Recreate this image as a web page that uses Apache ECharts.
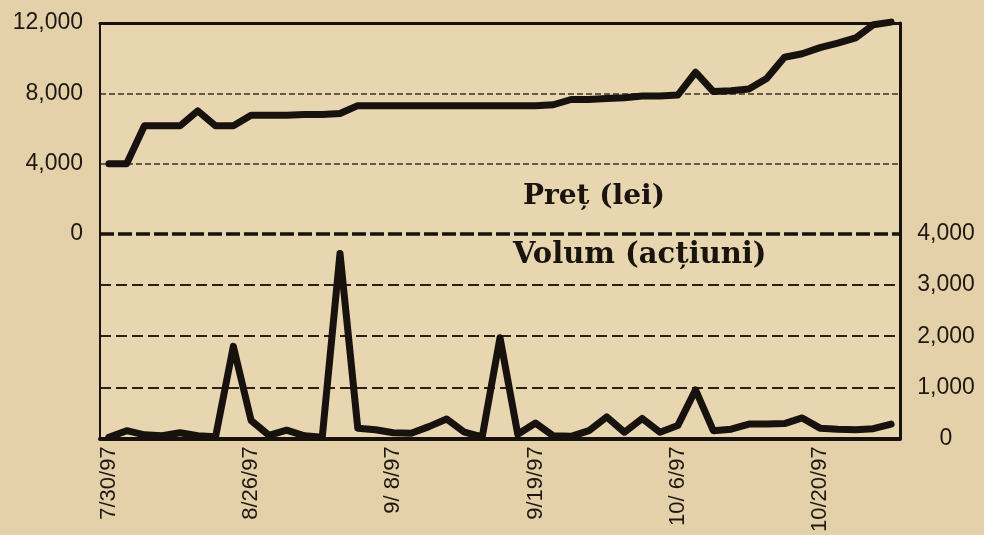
<!DOCTYPE html>
<html>
<head>
<meta charset="utf-8">
<script src="https://cdn.jsdelivr.net/npm/echarts@6/dist/echarts.min.js"></script>
<style>
  html, body { margin: 0; padding: 0; background: #e4d1a9; }
  #chart { width: 984px; height: 535px; }
</style>
</head>
<body>
<div id="chart"></div>
<script>
// ---- data ----
const categories = [
  '7/30/97', '8/ 1/97', '8/ 5/97', '8/ 7/97', '8/11/97', '8/14/97', '8/18/97', '8/21/97',
  '8/26/97', '8/27/97', '8/28/97', '8/29/97', '9/ 1/97', '9/ 2/97', '9/ 3/97', '9/ 5/97',
  '9/ 8/97', '9/ 9/97', '9/10/97', '9/11/97', '9/12/97', '9/15/97', '9/16/97', '9/18/97',
  '9/19/97', '9/22/97', '9/23/97', '9/24/97', '9/25/97', '9/29/97', '9/30/97', '10/ 2/97',
  '10/ 6/97', '10/ 7/97', '10/ 8/97', '10/ 9/97', '10/10/97', '10/13/97', '10/14/97', '10/15/97',
  '10/20/97', '10/21/97', '10/22/97', '10/23/97', '10/24/97'
];
const priceLei = [
  4000, 4000, 6150, 6150, 6150, 7000, 6150, 6150,
  6750, 6750, 6750, 6800, 6800, 6850, 7300, 7300,
  7300, 7300, 7300, 7300, 7300, 7300, 7300, 7300,
  7300, 7350, 7650, 7650, 7700, 7750, 7850, 7850,
  7900, 9200, 8100, 8150, 8250, 8850, 10050, 10250,
  10600, 10850, 11150, 11900, 12050
];
const volumeShares = [
  20, 150, 70, 50, 110, 50, 30, 1800,
  350, 60, 160, 50, 20, 3620, 200, 170,
  110, 100, 230, 380, 120, 30, 1970, 80,
  300, 50, 40, 150, 420, 120, 390, 120,
  250, 950, 150, 180, 280, 280, 290, 400,
  200, 180, 170, 190, 280
];
const priceAxis = { min: 0, max: 12000, step: 4000 };
const volumeAxis = { min: 0, max: 4000, step: 1000 };
const priceTitle = 'Preț (lei)';
const volumeTitle = 'Volum (acțiuni)';

// ---- styling ----
const ink = '#17120d';
const fmt = v => v.toLocaleString('en-US');
const axisFont = { fontFamily: 'Liberation Sans', fontSize: 23, color: '#1e1812' };

const chart = echarts.init(document.getElementById('chart'), null, { renderer: 'canvas' });
chart.setOption({
  animation: false,
  backgroundColor: '#e4d1a9',
  grid: [
    { left: 100, width: 800, top: 23, height: 211, show: true, backgroundColor: '#e8d6b1', borderWidth: 0 },
    { left: 100, width: 800, top: 234, height: 206, show: true, backgroundColor: '#e8d6b1', borderWidth: 0 }
  ],
  xAxis: [
    {
      type: 'category', gridIndex: 0, data: categories, boundaryGap: true, position: 'top',
      axisLine: { show: true, onZero: false, lineStyle: { color: ink, width: 3 } },
      axisTick: { show: false }, axisLabel: { show: false }, splitLine: { show: false }
    },
    {
      type: 'category', gridIndex: 1, data: categories, boundaryGap: true, position: 'bottom',
      axisLine: { show: true, onZero: false, lineStyle: { color: ink, width: 4 } },
      axisTick: { show: false }, splitLine: { show: false },
      axisLabel: { interval: 7, rotate: 90, margin: 8, fontFamily: 'Liberation Sans', fontSize: 22, color: '#1e1812' }
    }
  ],
  yAxis: [
    {
      type: 'value', gridIndex: 0, position: 'left',
      min: priceAxis.min, max: priceAxis.max, interval: priceAxis.step,
      axisLine: { show: true, lineStyle: { color: ink, width: 2 } },
      axisTick: { show: false },
      axisLabel: Object.assign({ margin: 17, formatter: fmt }, axisFont),
      splitLine: { show: true, showMinLine: false, showMaxLine: false,
        lineStyle: { color: '#3a3025', width: 1.5, type: [6, 3] } }
    },
    {
      type: 'value', gridIndex: 1, position: 'right',
      min: volumeAxis.min, max: volumeAxis.max, interval: volumeAxis.step,
      axisLine: { show: true, lineStyle: { color: ink, width: 3 } },
      axisTick: { show: false },
      axisLabel: Object.assign({ margin: 46, align: 'center', formatter: fmt }, axisFont),
      splitLine: { show: true, showMinLine: false, showMaxLine: false,
        lineStyle: { color: '#2a221a', width: 2, type: [11, 5] } }
    },
    {
      type: 'value', gridIndex: 0, position: 'right',
      min: priceAxis.min, max: priceAxis.max, interval: priceAxis.step,
      axisLine: { show: true, lineStyle: { color: ink, width: 3 } },
      axisTick: { show: false }, axisLabel: { show: false }, splitLine: { show: false }
    },
    {
      type: 'value', gridIndex: 1, position: 'left',
      min: volumeAxis.min, max: volumeAxis.max, interval: volumeAxis.step,
      axisLine: { show: true, lineStyle: { color: ink, width: 2 } },
      axisTick: { show: false }, axisLabel: { show: false }, splitLine: { show: false }
    }
  ],
  series: [
    {
      name: priceTitle, type: 'line', xAxisIndex: 0, yAxisIndex: 0, data: priceLei,
      showSymbol: false, clip: false, z: 5,
      lineStyle: { color: ink, width: 7, join: 'round', cap: 'round' }
    },
    {
      name: volumeTitle, type: 'line', xAxisIndex: 1, yAxisIndex: 1, data: volumeShares,
      showSymbol: false, clip: false, z: 5,
      lineStyle: { color: ink, width: 7, join: 'round', cap: 'round' },
      markLine: {
        silent: true, symbol: ['none', 'none'], label: { show: false },
        lineStyle: { color: ink, width: 3.5, type: [14, 4] },
        data: [{ yAxis: volumeAxis.max }]
      }
    }
  ],
  graphic: [
    { type: 'text', left: 523, top: 183, z: 10,
      style: { text: priceTitle, font: 'bold 28px "DejaVu Serif"', fill: '#1a140e' } },
    { type: 'text', left: 513, top: 241, z: 10,
      style: { text: volumeTitle, font: 'bold 29px "DejaVu Serif"', fill: '#1a140e' } }
  ]
});
</script>
</body>
</html>
